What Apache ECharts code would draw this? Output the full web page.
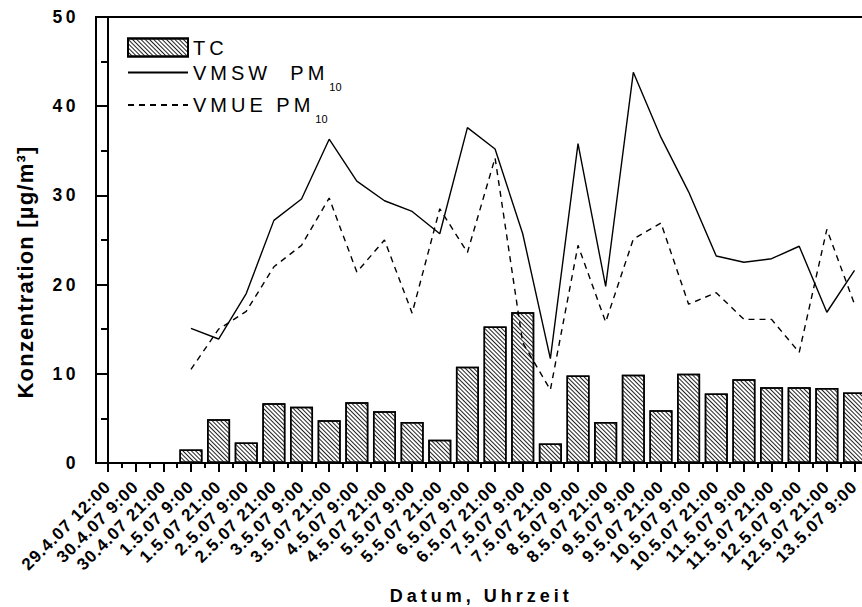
<!DOCTYPE html>
<html>
<head>
<meta charset="utf-8">
<script src="https://cdn.jsdelivr.net/npm/echarts@6/dist/echarts.min.js"></script>
<style>
  html, body { margin: 0; padding: 0; background: #fff; width: 862px; height: 607px; overflow: hidden; }
  #chart { width: 862px; height: 607px; overflow: hidden; }
  #chart svg { display: block; }
  /* letter spacing per text group (SVG renderer emits <text> elements) */
  #chart text[style*="17px"] { letter-spacing: 1px; }
  #chart text[style*="17.5px"] { letter-spacing: 3.5px; }
  #chart text[style*="18px"] { letter-spacing: 4px; }
  #chart text[style*="20px"] { letter-spacing: 4px; white-space: pre; }
  #chart text[style*="22px"] { letter-spacing: 1.2px; }
</style>
</head>
<body>
<div id="chart"></div>
<script>
// Sampling times (x categories)
const categories = [
  '29.4.07 12:00', '30.4.07 9:00', '30.4.07 21:00',
  '1.5.07 9:00', '1.5.07 21:00', '2.5.07 9:00', '2.5.07 21:00',
  '3.5.07 9:00', '3.5.07 21:00', '4.5.07 9:00', '4.5.07 21:00',
  '5.5.07 9:00', '5.5.07 21:00', '6.5.07 9:00', '6.5.07 21:00',
  '7.5.07 9:00', '7.5.07 21:00', '8.5.07 9:00', '8.5.07 21:00',
  '9.5.07 9:00', '9.5.07 21:00', '10.5.07 9:00', '10.5.07 21:00',
  '11.5.07 9:00', '11.5.07 21:00', '12.5.07 9:00', '12.5.07 21:00',
  '13.5.07 9:00'
];

// Total carbon (bars), µg/m³
const tc = [null, null, null,
  1.5, 4.9, 2.3, 6.7, 6.3, 4.8, 6.8, 5.8, 4.6, 2.6,
  10.8, 15.3, 16.9, 2.2, 9.8, 4.6, 9.9, 5.9, 10.0, 7.8,
  9.4, 8.5, 8.5, 8.4, 7.9];

// PM10 at station VMSW (solid line)
const vmsw = [null, null, null,
  15.1, 13.9, 19.0, 27.2, 29.6, 36.3, 31.6, 29.4, 28.2, 25.7,
  37.6, 35.2, 25.7, 11.7, 35.8, 19.8, 43.8, 36.5, 30.4, 23.2,
  22.5, 22.9, 24.3, 16.9, 21.6];

// PM10 at station VMUE (dashed line)
const vmue = [null, null, null,
  10.5, 15.0, 17.0, 22.0, 24.4, 29.7, 21.4, 25.0, 16.8, 28.5,
  23.6, 34.2, 13.5, 8.2, 24.4, 15.8, 25.1, 26.9, 17.8, 19.1,
  16.1, 16.1, 12.4, 26.2, 17.8];

const yTickValues = [0, 10, 20, 30, 40, 50];
const seriesNames = ['TC', 'VMSW PM10', 'VMUE PM10'];
const legendMain = ['TC', 'VMSW  PM', 'VMUE PM'];
const legendSub = ['', '10', '10'];
const xTitle = 'Datum, Uhrzeit';
const yTitle = 'Konzentration [µg/m³]';

const FONT = "'Liberation Sans', Arial, sans-serif";
const LEGEND_SPACING = 4; // matches the 20px letter-spacing rule above

const idx = categories.map((_, i) => i);
const minorIdx = categories.slice(0, -1).map((_, i) => i + 0.5);
const toPairs = arr => arr.map((v, i) => [i, v]).filter(p => p[1] !== null);

const xMin = -0.434;
const xMax = categories.length - 1 + 0.434;

const chart = echarts.init(document.getElementById('chart'), null, { renderer: 'svg', width: 862, height: 607 });

function legendFor(k, top, itemHeight, isLine) {
  const main = legendMain[k];
  const sub = legendSub[k];
  // rich segments are laid out without letter spacing, so push the subscript along
  const subPad = LEGEND_SPACING * main.length + 1;
  const leg = {
    data: [isLine ? seriesNames[k] : { name: seriesNames[k], icon: 'rect' }],
    left: 127,
    top: top,
    padding: 0,
    itemWidth: 60,
    itemHeight: itemHeight,
    selectedMode: false,
    formatter: () => sub ? '{m|' + main + '}{s|' + sub + '}' : '{m|' + main + '}',
    textStyle: {
      color: '#000',
      fontFamily: FONT,
      fontSize: 20,
      rich: {
        m: { fontSize: 20, fontFamily: FONT, color: '#000', lineHeight: 39 },
        s: { fontSize: 11, fontFamily: FONT, color: '#000', verticalAlign: 'bottom', padding: [0, 0, 0, subPad] }
      }
    }
  };
  if (isLine) {
    leg.itemStyle = { opacity: 0 };
  }
  return leg;
}

chart.setOption({
  animation: false,
  backgroundColor: '#fff',
  grid: {
    left: 96, top: 17, bottom: 144, right: -4.5,
    outerBoundsMode: 'none',
    containLabel: false,
    show: true, borderColor: '#000', borderWidth: 2, backgroundColor: 'transparent'
  },
  legend: [
    legendFor(0, 37.5, 18, false),
    legendFor(1, 62.5, 14, true),
    legendFor(2, 95, 14, true)
  ],
  xAxis: [
    {
      type: 'value', min: xMin, max: xMax, position: 'bottom',
      splitLine: { show: false },
      axisLine: { show: true, lineStyle: { color: '#000', width: 2 } },
      axisTick: { show: true, customValues: idx, length: 9, lineStyle: { color: '#000', width: 2 } },
      axisLabel: {
        customValues: idx,
        formatter: v => categories[Math.round(v)],
        rotate: 45, margin: 21,
        color: '#000', fontFamily: FONT, fontWeight: 'bold', fontSize: 17
      },
      name: xTitle, nameLocation: 'middle', nameGap: 124,
      nameTextStyle: { color: '#000', fontFamily: FONT, fontWeight: 'bold', fontSize: 18 }
    },
    {
      type: 'value', min: xMin, max: xMax, position: 'bottom',
      splitLine: { show: false },
      axisLine: { show: false },
      axisTick: { show: true, customValues: minorIdx, length: 5, lineStyle: { color: '#000', width: 2 } },
      axisLabel: { show: false }
    }
  ],
  yAxis: {
    type: 'value', min: 0, max: 50, interval: 10,
    splitLine: { show: false },
    axisLine: { show: true, lineStyle: { color: '#000', width: 2 } },
    axisTick: { show: true, length: 12, lineStyle: { color: '#000', width: 2 } },
    minorTick: { show: true, splitNumber: 2, length: 7, lineStyle: { color: '#000', width: 2 } },
    axisLabel: {
      margin: 17,
      formatter: v => yTickValues.includes(v) ? String(v) : '',
      color: '#000', fontFamily: FONT, fontWeight: 'bold', fontSize: 17.5
    }
  },
  graphic: [{
    type: 'text',
    x: 25, y: 272,
    rotation: Math.PI / 2,
    style: {
      text: yTitle,
      fill: '#000',
      font: "bold 22px 'Liberation Sans', Arial, sans-serif",
      textAlign: 'center',
      textVerticalAlign: 'middle'
    }
  }],
  series: [
    {
      name: seriesNames[0], type: 'bar', xAxisIndex: 0,
      barWidth: 23,
      data: toPairs(tc),
      itemStyle: {
        color: '#fff', borderColor: '#000', borderWidth: 1.5,
        decal: {
          symbol: 'rect', color: '#222', backgroundColor: '#fff',
          dashArrayX: [1, 0], dashArrayY: [1, 1.9], rotation: Math.PI / 4
        }
      },
      emphasis: { disabled: true }
    },
    {
      name: seriesNames[1], type: 'line', xAxisIndex: 0,
      data: toPairs(vmsw),
      symbol: 'none', showSymbol: false,
      lineStyle: { color: '#000', width: 1.4, type: 'solid' },
      itemStyle: { color: '#000' },
      emphasis: { disabled: true }, z: 3
    },
    {
      name: seriesNames[2], type: 'line', xAxisIndex: 0,
      data: toPairs(vmue),
      symbol: 'none', showSymbol: false,
      lineStyle: { color: '#000', width: 1.4, type: [6, 5] },
      itemStyle: { color: '#000' },
      emphasis: { disabled: true }, z: 3
    }
  ]
});
</script>
</body>
</html>
